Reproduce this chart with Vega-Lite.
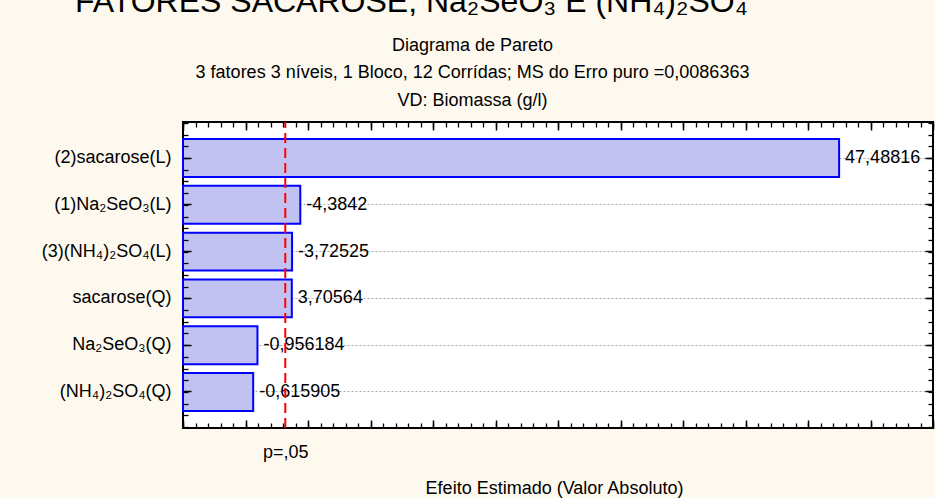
{
  "$schema": "https://vega.github.io/schema/vega-lite/v6.json",
  "width": 750,
  "height": 306,
  "autosize": {"type": "none"},
  "padding": {"left": 183, "top": 122, "right": 2, "bottom": 70},
  "background": "#fdf9ef",
  "title": {
    "text": "FATORES SACAROSE, Na₂SeO₃ E (NH₄)₂SO₄",
    "anchor": "start",
    "frame": "group",
    "dx": -108,
    "dy": -13,
    "fontSize": 32,
    "fontWeight": "normal",
    "color": "black",
    "font": "Liberation Sans"
  },
  "datasets": {
    "efeitos": [
      {"fator": "(2)sacarose(L)", "efeito": 47.48816, "absoluto": 47.48816},
      {"fator": "(1)Na₂SeO₃(L)", "efeito": -4.3842, "absoluto": 4.3842},
      {"fator": "(3)(NH₄)₂SO₄(L)", "efeito": -3.72525, "absoluto": 3.72525},
      {"fator": "sacarose(Q)", "efeito": 3.70564, "absoluto": 3.70564},
      {"fator": "Na₂SeO₃(Q)", "efeito": -0.956184, "absoluto": 0.956184},
      {"fator": "(NH₄)₂SO₄(Q)", "efeito": -0.615905, "absoluto": 0.615905}
    ],
    "critico": [{"t": 3.182446, "rotulo": "p=,05"}]
  },
  "layer": [
    {
      "data": {"name": "efeitos"},
      "mark": {"type": "bar", "fill": "#c2c2f2", "stroke": "#0000ff", "strokeWidth": 2},
      "encoding": {
        "y": {
          "field": "fator", "type": "nominal", "sort": null,
          "scale": {"type": "band", "paddingInner": 0.19, "paddingOuter": 0.365},
          "axis": {"orient": "left", "title": null, "labelPadding": 20, "tickSize": -8, "tickWidth": 1.5,
                   "grid": false, "bandPosition": 0.5, "zindex": 1}
        },
        "x": {
          "field": "absoluto", "type": "quantitative",
          "scale": {"domain": [-5, 55], "nice": false, "zero": false},
          "axis": {"orient": "bottom", "values": [-5, 0, 5, 10, 15, 20, 25, 30, 35, 40, 45, 50, 55],
                   "labels": false, "tickSize": -8, "tickWidth": 1.5, "zindex": 1,
                   "title": "Efeito Estimado (Valor Absoluto)", "titleX": 371, "titleY": 65,
                   "titleAlign": "center", "titleBaseline": "alphabetic"}
        },
        "x2": {"datum": -5}
      }
    },
    {
      "data": {"name": "efeitos"},
      "mark": {"type": "text", "align": "left", "baseline": "middle", "dx": 6, "fontSize": 18, "font": "Liberation Sans", "color": "black"},
      "encoding": {
        "y": {
          "field": "fator", "type": "nominal", "sort": null,
          "scale": {"type": "band", "paddingInner": 0.19, "paddingOuter": 0.365},
          "axis": {"orient": "right", "title": null, "labels": false, "tickSize": -8, "tickWidth": 1.5, "bandPosition": 0.5,
                   "grid": true, "gridColor": "#a8a8a8", "gridDash": [2, 2], "gridWidth": 1, "zindex": 0}
        },
        "x": {
          "field": "absoluto", "type": "quantitative",
          "scale": {"domain": [-5, 55], "nice": false, "zero": false},
          "axis": {"orient": "top", "values": [-5, 0, 5, 10, 15, 20, 25, 30, 35, 40, 45, 50, 55],
                   "labels": false, "tickSize": -8, "tickWidth": 1.5, "zindex": 1,
                   "title": ["Diagrama de Pareto", "3 fatores 3 níveis, 1 Bloco, 12 Corrídas; MS do Erro puro =0,0086363", "VD: Biomassa (g/l)"],
                   "titleX": 289, "titleY": -72, "titleAlign": "center", "titleBaseline": "alphabetic", "titleLineHeight": 27.5}
        },
        "text": {"field": "efeito", "type": "quantitative", "format": ".7~g"}
      }
    },
    {
      "data": {"name": "critico"},
      "mark": {"type": "rule", "color": "#ff0000", "strokeWidth": 2, "strokeDash": [10, 5]},
      "encoding": {
        "x": {
          "field": "t", "type": "quantitative",
          "scale": {"domain": [-5, 55], "nice": false, "zero": false},
          "axis": {"orient": "bottom", "values": [3.182446], "labelExpr": "'p=,05'", "ticks": false,
                   "labelPadding": 29, "labelBaseline": "alphabetic", "title": null}
        },
        "y": {
          "datum": 0, "type": "quantitative",
          "scale": {"domain": [0, 6.54], "nice": false, "zero": false},
          "axis": {"orient": "left", "values": [0.02, 0.27, 0.52, 0.77, 1.02, 1.27, 1.52, 1.77, 2.02, 2.27, 2.52, 2.77, 3.02, 3.27, 3.52, 3.77, 4.02, 4.27, 4.52, 4.77, 5.02, 5.27, 5.52, 5.77, 6.02, 6.27, 6.52],
                   "labels": false, "ticks": true, "tickSize": -5, "tickWidth": 1.3, "zindex": 1, "title": null}
        },
        "y2": {"datum": 6.54}
      }
    },
    {
      "data": {"name": "critico"},
      "mark": {"type": "rule", "strokeOpacity": 0},
      "encoding": {
        "x": {
          "field": "t", "type": "quantitative",
          "scale": {"domain": [-5, 55], "nice": false, "zero": false},
          "axis": {"orient": "bottom", "values": [-5, -4, -3, -2, -1, 0, 1, 2, 3, 4, 5, 6, 7, 8, 9, 10, 11, 12, 13, 14, 15, 16, 17, 18, 19, 20, 21, 22, 23, 24, 25, 26, 27, 28, 29, 30, 31, 32, 33, 34, 35, 36, 37, 38, 39, 40, 41, 42, 43, 44, 45, 46, 47, 48, 49, 50, 51, 52, 53, 54, 55],
                   "labels": false, "ticks": true, "tickSize": -5, "tickWidth": 1.3, "zindex": 1, "title": null}
        },
        "y": {
          "datum": 0, "type": "quantitative",
          "scale": {"domain": [0, 6.54], "nice": false, "zero": false},
          "axis": {"orient": "right", "values": [0.02, 0.27, 0.52, 0.77, 1.02, 1.27, 1.52, 1.77, 2.02, 2.27, 2.52, 2.77, 3.02, 3.27, 3.52, 3.77, 4.02, 4.27, 4.52, 4.77, 5.02, 5.27, 5.52, 5.77, 6.02, 6.27, 6.52],
                   "labels": false, "ticks": true, "tickSize": -5, "tickWidth": 1.3, "zindex": 1, "title": null}
        },
        "y2": {"datum": 6.54}
      }
    },
    {
      "data": {"name": "critico"},
      "mark": {"type": "rule", "strokeOpacity": 0},
      "encoding": {
        "x": {
          "field": "t", "type": "quantitative",
          "scale": {"domain": [-5, 55], "nice": false, "zero": false},
          "axis": {"orient": "top", "values": [-5, -4, -3, -2, -1, 0, 1, 2, 3, 4, 5, 6, 7, 8, 9, 10, 11, 12, 13, 14, 15, 16, 17, 18, 19, 20, 21, 22, 23, 24, 25, 26, 27, 28, 29, 30, 31, 32, 33, 34, 35, 36, 37, 38, 39, 40, 41, 42, 43, 44, 45, 46, 47, 48, 49, 50, 51, 52, 53, 54, 55],
                   "labels": false, "ticks": true, "tickSize": -5, "tickWidth": 1.3, "zindex": 1, "title": null}
        }
      }
    }
  ],
  "resolve": {
    "scale": {"y": "independent"},
    "axis": {"x": "independent", "y": "independent"}
  },
  "config": {
    "font": "Liberation Sans",
    "view": {"fill": "white", "stroke": "black", "strokeWidth": 2},
    "locale": {"number": {"decimal": ",", "thousands": ".", "grouping": [3], "currency": ["", ""], "minus": "-"}},
    "axis": {
      "labelFont": "Liberation Sans", "titleFont": "Liberation Sans",
      "labelFontSize": 18, "titleFontSize": 18, "titleFontWeight": "normal",
      "labelColor": "black", "titleColor": "black", "tickColor": "black",
      "domain": false, "grid": false
    }
  }
}
